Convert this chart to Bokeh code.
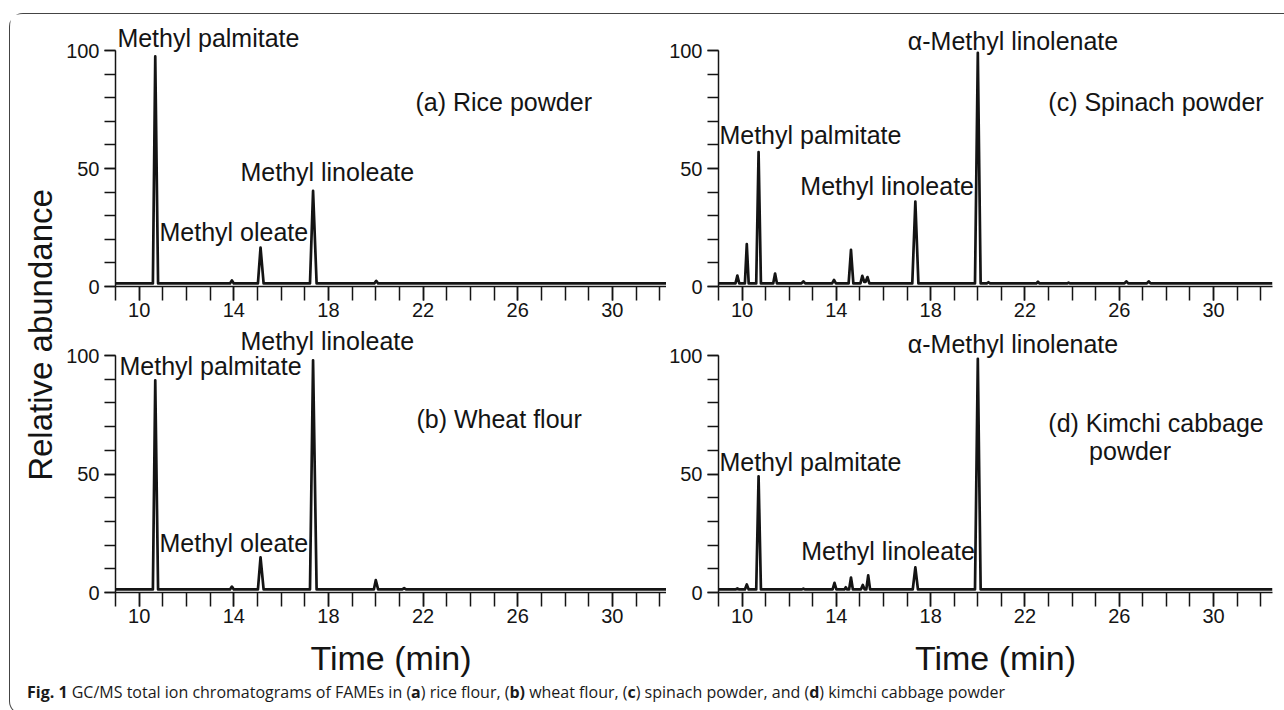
import math
from bokeh.plotting import figure
from bokeh.models import Range1d, FixedTicker, Label, Div, LinearAxis
from bokeh.layouts import row, column
from bokeh.embed import file_html
from bokeh.resources import INLINE

# ---------------- data ----------------
# (a) Rice powder
t_a = [9.0, 10.58, 10.68, 10.8, 13.84, 13.92, 14.0, 15.02, 15.13, 15.26,
       17.22, 17.35, 17.5, 19.94, 20.02, 20.1, 32.5]
y_a = [1.3, 1.3, 97.5, 1.3, 1.3, 2.6, 1.3, 1.3, 16.5, 1.3,
       1.3, 40.5, 1.3, 1.3, 2.4, 1.3, 1.3]
# (b) Wheat flour
t_b = [9.0, 10.58, 10.68, 10.8, 13.84, 13.92, 14.0, 15.02, 15.13, 15.26,
       17.22, 17.35, 17.5, 19.92, 20.0, 20.1, 21.12, 21.2, 21.28, 32.5]
y_b = [1.3, 1.3, 89.5, 1.3, 1.3, 2.5, 1.3, 1.3, 14.8, 1.3,
       1.3, 98, 1.3, 1.3, 5.2, 1.3, 1.3, 1.8, 1.3, 1.3]
# (c) Spinach powder
t_c = [9.0, 9.72, 9.8, 9.88, 10.12, 10.2, 10.28, 10.6, 10.7, 10.8,
       11.32, 11.4, 11.48, 12.52, 12.6, 12.68, 13.82, 13.9, 13.98, 14.52,
       14.62, 14.72, 15.02, 15.1, 15.18, 15.24, 15.32, 15.4, 17.22, 17.35,
       17.48, 19.88, 20.0, 20.12, 20.38, 20.45, 20.52, 22.48, 22.55, 22.62,
       23.78, 23.85, 23.92, 26.22, 26.3, 26.38, 27.17, 27.25, 27.33, 32.5]
y_c = [1.3, 1.3, 4.6, 1.3, 1.3, 18, 1.3, 1.3, 57, 1.3,
       1.3, 5.5, 1.3, 1.3, 2.2, 1.3, 1.3, 2.8, 1.3, 1.3,
       15.5, 1.3, 1.3, 4.5, 2.0, 2.0, 4.0, 1.3, 1.3, 36,
       1.3, 1.3, 99, 1.3, 1.3, 1.8, 1.3, 1.3, 2.0, 1.3,
       1.3, 1.6, 1.3, 1.3, 2.2, 1.3, 1.3, 2.2, 1.3, 1.3]
# (d) Kimchi cabbage powder
t_d = [9.0, 9.72, 9.8, 9.88, 10.12, 10.2, 10.28, 10.6, 10.7, 10.8,
       12.52, 12.6, 12.68, 13.84, 13.92, 14.0, 14.34, 14.4, 14.46, 14.54,
       14.62, 14.7, 15.04, 15.12, 15.2, 15.27, 15.35, 15.43, 17.24, 17.35,
       17.46, 19.88, 20.0, 20.12, 32.5]
y_d = [1.3, 1.3, 1.7, 1.3, 1.3, 3.4, 1.3, 1.3, 49, 1.3,
       1.3, 1.6, 1.3, 1.3, 4.1, 1.3, 1.3, 2.2, 1.3, 1.3,
       6.3, 1.3, 1.3, 3.2, 1.3, 1.3, 7.2, 1.3, 1.3, 10.6,
       1.3, 1.3, 98.6, 1.3, 1.3]

x_major = [10, 14, 18, 22, 26, 30]
x_minor = list(range(9, 33))
y_major = [0, 50, 100]
y_minor = list(range(0, 101, 10))

labels_a = [("Methyl palmitate", 9.08, 105.5), ("(a) Rice powder", 21.68, 78.0),
            ("Methyl linoleate", 14.28, 48.7), ("Methyl oleate", 10.86, 22.9)]
labels_b = [("Methyl linoleate", 14.28, 106.0), ("Methyl palmitate", 9.17, 95.4),
            ("(b) Wheat flour", 21.72, 73.4), ("Methyl oleate", 10.86, 20.7)]
labels_c = [("\u03b1-Methyl linolenate", 17.03, 104.2), ("(c) Spinach powder", 22.99, 78.0),
            ("Methyl palmitate", 9.04, 64.0), ("Methyl linoleate", 12.47, 42.4)]
labels_d = [("\u03b1-Methyl linolenate", 17.03, 104.8), ("(d) Kimchi cabbage", 22.99, 71.7),
            ("powder", 24.72, 59.9), ("Methyl palmitate", 9.04, 54.9),
            ("Methyl linoleate", 12.51, 17.3)]

FONT = "Liberation Sans"
INK = "#141414"


def panel(t, y, labels, xend, ytop, width, height, mbl, mbr, mbb, xlabel):
    p = figure(width=width, height=height,
               x_range=Range1d(9, xend), y_range=Range1d(0, ytop),
               x_axis_type=None, y_axis_type=None,
               output_backend="svg", toolbar_location=None,
               min_border_left=mbl, min_border_right=mbr,
               min_border_top=0, min_border_bottom=mbb,
               outline_line_color=None, background_fill_color="white",
               border_fill_color="white")
    xa = LinearAxis(ticker=FixedTicker(ticks=x_major, minor_ticks=x_minor),
                    bounds=(9, min(32.5, xend)))
    ya = LinearAxis(ticker=FixedTicker(ticks=y_major, minor_ticks=y_minor),
                    bounds=(0, 100))
    for ax in (xa, ya):
        ax.axis_line_color = INK
        ax.axis_line_width = 1.5
        ax.major_tick_line_color = INK
        ax.minor_tick_line_color = INK
        ax.major_tick_line_width = 1.5
        ax.minor_tick_line_width = 1.5
        ax.major_tick_in = 0
        ax.minor_tick_in = 0
        ax.major_label_text_font = FONT
        ax.major_label_text_font_size = "20px"
        ax.major_label_text_color = INK
    xa.major_tick_out = 14
    xa.minor_tick_out = 14
    xa.major_label_standoff = 2
    ya.major_tick_out = 11
    ya.minor_tick_out = 11
    ya.major_label_standoff = 5
    if xlabel:
        xa.axis_label = xlabel
        xa.axis_label_text_font = FONT
        xa.axis_label_text_font_size = "34px"
        xa.axis_label_text_font_style = "normal"
        xa.axis_label_text_color = INK
        xa.axis_label_standoff = 13
    p.add_layout(xa, "below")
    p.add_layout(ya, "left")
    p.line(t, y, line_width=2.7, line_color=INK, line_join="round")
    for txt, lx, ly in labels:
        p.add_layout(Label(x=lx, y=ly, text=txt, text_font=FONT, text_font_size="25px",
                           text_color=INK, text_align="left", text_baseline="middle"))
    return p


# left column: frame 116 -> 667 (23.66 px/min); right column: frame 717 -> 1273
XEND_L = 9 + 551 / 23.66
fa = panel(t_a, y_a, labels_a, XEND_L, 272 / 2.36, 607, 311, 56, 0, 39, None)
fc = panel(t_c, y_c, labels_c, 32.5, 272 / 2.36, 609, 311, 50, 3, 39, None)
fb = panel(t_b, y_b, labels_b, XEND_L, 267 / 2.37, 607, 357, 56, 0, 90, "Time (min)")
fd = panel(t_d, y_d, labels_d, 32.5, 267 / 2.37, 609, 357, 50, 3, 90, "Time (min)")

ylab = figure(width=49, height=668, x_range=Range1d(0, 49), y_range=Range1d(0, 668),
              x_axis_type=None, y_axis_type=None, min_border=0,
              outline_line_color=None, toolbar_location=None, output_backend="svg")
ylab.add_layout(Label(x=29.5, y=347.5, text="Relative abundance", angle=math.pi / 2,
                      text_font=FONT, text_font_size="33px", text_color=INK,
                      text_align="center", text_baseline="middle"))

caption = Div(
    text=('<b>Fig. 1</b> GC/MS total ion chromatograms of FAMEs in (<b>a</b>) rice flour, '
          '(<b>b)</b> wheat flour, (<b>c</b>) spinach powder, and (<b>d</b>) kimchi cabbage powder'),
    width=1265, height=22,
    styles={"font-family": "Open Sans", "font-size": "16px", "color": "#1a1a1a",
            "line-height": "16px", "padding-left": "12px", "padding-top": "0px",
            "position": "relative", "top": "-3px", "white-space": "nowrap"})

grid = column(row(fa, fc), row(fb, fd))
page = column(row(ylab, grid), caption,
              styles={"margin-top": "13px", "margin-left": "9px",
                      "border-top": "1.5px solid #444", "border-left": "1.5px solid #444",
                      "border-bottom": "1.5px solid #444",
                      "border-top-left-radius": "14px", "border-bottom-left-radius": "14px"})

open("out.html", "w").write(file_html(page, INLINE))
